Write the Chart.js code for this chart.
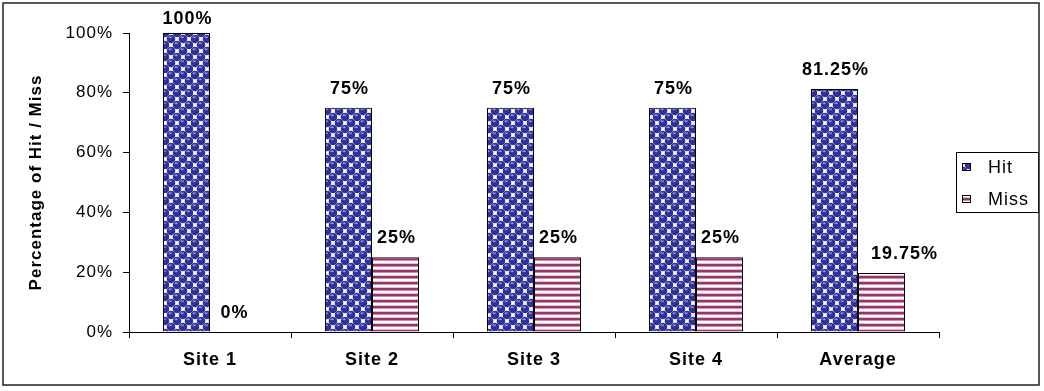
<!DOCTYPE html>
<html>
<head>
<meta charset="utf-8">
<script src="https://cdn.jsdelivr.net/npm/chart.js@4/dist/chart.umd.min.js"></script>
<style>
    html, body { margin: 0; padding: 0; background: #fff; }
    #wrap { width: 1044px; height: 391px; }
</style>
</head>
<body>
<div id="wrap"><canvas id="hitChart" width="1044" height="391"></canvas></div>
<script>
// Data
const categories = ['Site 1', 'Site 2', 'Site 3', 'Site 4', 'Average']
const seriesNames = ['Hit', 'Miss']
const hitValues = [100, 75, 75, 75, 81.25]
const missValues = [0, 25, 25, 25, 19.75]
const yTicks = [0, 20, 40, 60, 80, 100]

const FONT = "'Liberation Sans', Arial, sans-serif"

// blue "balls" fill used for Hit
function ballPattern(ctx) {
    const c = document.createElement('canvas')
    c.width = 12; c.height = 12
    const g = c.getContext('2d')
    g.fillStyle = '#fff'
    g.fillRect(0, 0, 12, 12)
    const centers = [[3, 3], [9, 9]]
    for (const [cx, cy] of centers) {
        for (const dx of [-12, 0, 12]) {
            for (const dy of [-12, 0, 12]) {
                g.fillStyle = '#30309a'
                g.beginPath(); g.arc(cx + dx, cy + dy, 4.3, 0, Math.PI * 2); g.fill()
                g.fillStyle = '#8a8ad6'
                g.beginPath(); g.ellipse(cx + dx - 0.8, cy + dy - 1.8, 1.8, 1, 0, 0, Math.PI * 2); g.fill()
            }
        }
    }
    return ctx.createPattern(c, 'repeat')
}

// horizontal plum stripes used for Miss
function stripePattern(ctx) {
    const c = document.createElement('canvas')
    c.width = 4; c.height = 6
    const g = c.getContext('2d')
    const rows = ['#993366', '#993366', '#c890ac', '#ffffff', '#ffffff', '#e2bfd0']
    rows.forEach((col, i) => { g.fillStyle = col; g.fillRect(0, i, 4, 1) })
    return ctx.createPattern(c, 'repeat')
}

const canvas = document.getElementById('hitChart')
const ctx = canvas.getContext('2d')

const spacingPlugin = {
    id: 'spacing',
    beforeDraw(chart) { chart.ctx.letterSpacing = '1px' }
}

const valueLabels = {
    id: 'valueLabels',
    afterDatasetsDraw(chart) {
        const c = chart.ctx
        c.save()
        c.font = 'bold 18px ' + FONT
        c.fillStyle = '#000'
        c.textAlign = 'center'
        c.textBaseline = 'alphabetic'
        chart.data.datasets.forEach((ds, i) => {
            chart.getDatasetMeta(i).data.forEach((bar, j) => {
                const text = ds.data[j] + '%'
                const w = c.measureText(text).width
                let x = bar.x + 1
                // push a wide label off a taller neighbour on its left
                if (i > 0) {
                    const prev = chart.getDatasetMeta(i - 1).data[j]
                    const left = bar.x - bar.width / 2
                    if (prev.y < bar.y - 10 && x - w / 2 < left + 4) x = left + 13 + w / 2
                }
                // keep labels inside the frame
                c.fillText(text, x, Math.max(bar.y - 14, 24))
            })
        })
        c.restore()
    }
}

const boxLegend = {
    id: 'boxLegend',
    afterDraw(chart) {
        const c = chart.ctx
        c.save()
        c.strokeStyle = '#000'
        c.lineWidth = 1
        c.strokeRect(956.5, 152.5, 82, 60)
        c.font = '18px ' + FONT
        c.textBaseline = 'middle'
        chart.data.datasets.forEach((ds, i) => {
            const y = 167 + i * 32
            c.fillStyle = ds.backgroundColor
            c.fillRect(962, y - 4, 9, 8)
            c.strokeStyle = '#000'
            c.strokeRect(962.5, y - 3.5, 8, 7)
            c.fillStyle = '#000'
            c.fillText(ds.label, 988, y + 1)
        })
        // outer frame
        c.strokeStyle = '#222'
        c.lineWidth = 1.5
        c.strokeRect(3, 3, 1036, 382)
        c.restore()
    }
}

new Chart(ctx, {
    type: 'bar',
    data: {
        labels: categories,
        datasets: [
            {
                label: seriesNames[0],
                data: hitValues,
                backgroundColor: ballPattern(ctx),
                borderColor: '#000',
                borderWidth: 1,
                categoryPercentage: 0.58,
                barPercentage: 1
            },
            {
                label: seriesNames[1],
                data: missValues,
                backgroundColor: stripePattern(ctx),
                borderColor: '#000',
                borderWidth: 1,
                categoryPercentage: 0.58,
                barPercentage: 1
            }
        ]
    },
    options: {
        responsive: false,
        animation: false,
        devicePixelRatio: 1,
        layout: { padding: { top: 33, right: 105, left: 0, bottom: 0 } },
        plugins: {
            legend: { display: false },
            tooltip: { enabled: false }
        },
        scales: {
            x: {
                grid: { offset: true, drawOnChartArea: false, tickLength: 6, color: '#000' },
                border: { color: '#000' },
                ticks: {
                    color: '#000',
                    font: { family: FONT, size: 18, weight: 'bold' },
                    padding: 11,
                    autoSkip: false,
                    maxRotation: 0
                },
                afterFit: s => { s.height = 59 }
            },
            y: {
                min: 0,
                max: 100,
                afterBuildTicks: s => { s.ticks = yTicks.map(v => ({ value: v })) },
                grid: { drawOnChartArea: false, tickLength: 6, color: '#000' },
                border: { color: '#000' },
                ticks: {
                    color: '#000',
                    font: { family: FONT, size: 17 },
                    padding: 10,
                    callback: v => v + '%'
                },
                title: {
                    display: true,
                    text: 'Percentage of Hit / Miss',
                    color: '#000',
                    font: { family: FONT, size: 17, weight: 'bold' },
                    padding: { top: 26, bottom: 0 }
                },
                afterFit: s => { s.width = 129 }
            }
        }
    },
    plugins: [spacingPlugin, valueLabels, boxLegend]
})
</script>
</body>
</html>
